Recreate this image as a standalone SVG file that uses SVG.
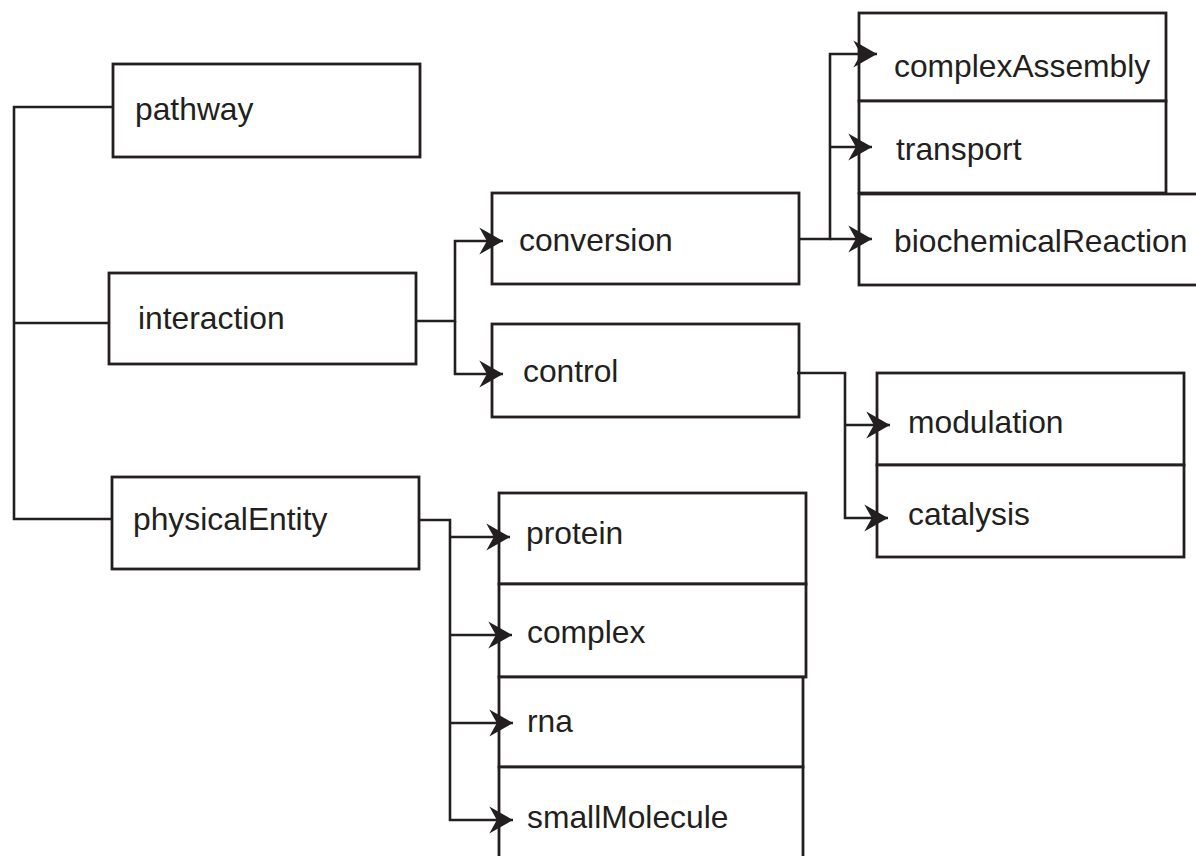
<svg xmlns="http://www.w3.org/2000/svg" width="1196" height="856" viewBox="0 0 1196 856">
<style>
.box{fill:#fff;stroke:#231f20;stroke-width:2.8}
.lbl{font-family:"Liberation Sans",Arial,sans-serif;font-size:31.8px;fill:#231f20}
.wire{fill:none;stroke:#231f20;stroke-width:2.6}
</style>
<defs>
<marker id="arr" markerUnits="userSpaceOnUse" markerWidth="26" markerHeight="28" viewBox="-23 -13 24 26" refX="0" refY="0" orient="auto">
<path d="M0,0 L-22,-12.5 L-15,0 L-22,12.5 Z" fill="#231f20"/>
</marker>
</defs>
<rect width="1196" height="856" fill="#fff"/>
<g id="pathway"><rect class="box" x="113" y="64" width="307" height="93"/><text class="lbl" x="135" y="120">pathway</text></g>
<g id="interaction"><rect class="box" x="109" y="273" width="307" height="91"/><text class="lbl" x="138" y="329">interaction</text></g>
<g id="physicalEntity"><rect class="box" x="112" y="477" width="307" height="92"/><text class="lbl" x="133" y="530">physicalEntity</text></g>
<g id="conversion"><rect class="box" x="492" y="193" width="307" height="91"/><text class="lbl" x="519" y="251">conversion</text></g>
<g id="control"><rect class="box" x="492" y="324" width="307" height="93"/><text class="lbl" x="523" y="382">control</text></g>
<g id="complexAssembly"><rect class="box" x="859" y="13" width="307" height="88"/><text class="lbl" x="894" y="77">complexAssembly</text></g>
<g id="transport"><rect class="box" x="859" y="101" width="307" height="92"/><text class="lbl" x="896" y="160">transport</text></g>
<g id="biochemicalReaction"><rect class="box" x="859" y="194" width="350" height="91"/><text class="lbl" x="894" y="252">biochemicalReaction</text></g>
<g id="modulation"><rect class="box" x="877" y="373" width="307" height="92"/><text class="lbl" x="908" y="433">modulation</text></g>
<g id="catalysis"><rect class="box" x="877" y="465" width="307" height="92"/><text class="lbl" x="908" y="525">catalysis</text></g>
<g id="protein"><rect class="box" x="499" y="493" width="307" height="91"/><text class="lbl" x="526" y="544">protein</text></g>
<g id="complex"><rect class="box" x="499" y="584" width="307" height="93"/><text class="lbl" x="527" y="643">complex</text></g>
<g id="rna"><rect class="box" x="499" y="677" width="304" height="90"/><text class="lbl" x="527" y="732">rna</text></g>
<g id="smallMolecule"><rect class="box" x="499" y="767" width="304" height="100"/><text class="lbl" x="527" y="828">smallMolecule</text></g>
<g id="connectors">
<path class="wire" d="M113,107 H14 V519 H112"/>
<path class="wire" d="M14,323 H109"/>
<path class="wire" d="M416,321 H455 V241 H503" marker-end="url(#arr)"/>
<path class="wire" d="M455,321 V374 H503" marker-end="url(#arr)"/>
<path class="wire" d="M799,239 H830 V54 H877" marker-end="url(#arr)"/>
<path class="wire" d="M830,147 H872" marker-end="url(#arr)"/>
<path class="wire" d="M830,239 H872" marker-end="url(#arr)"/>
<path class="wire" d="M797,373 H845 V518 H888" marker-end="url(#arr)"/>
<path class="wire" d="M845,425 H890" marker-end="url(#arr)"/>
<path class="wire" d="M419,520 H450 V820 H513" marker-end="url(#arr)"/>
<path class="wire" d="M450,537 H510" marker-end="url(#arr)"/>
<path class="wire" d="M450,635 H512" marker-end="url(#arr)"/>
<path class="wire" d="M450,723 H513" marker-end="url(#arr)"/>
</g>
</svg>
